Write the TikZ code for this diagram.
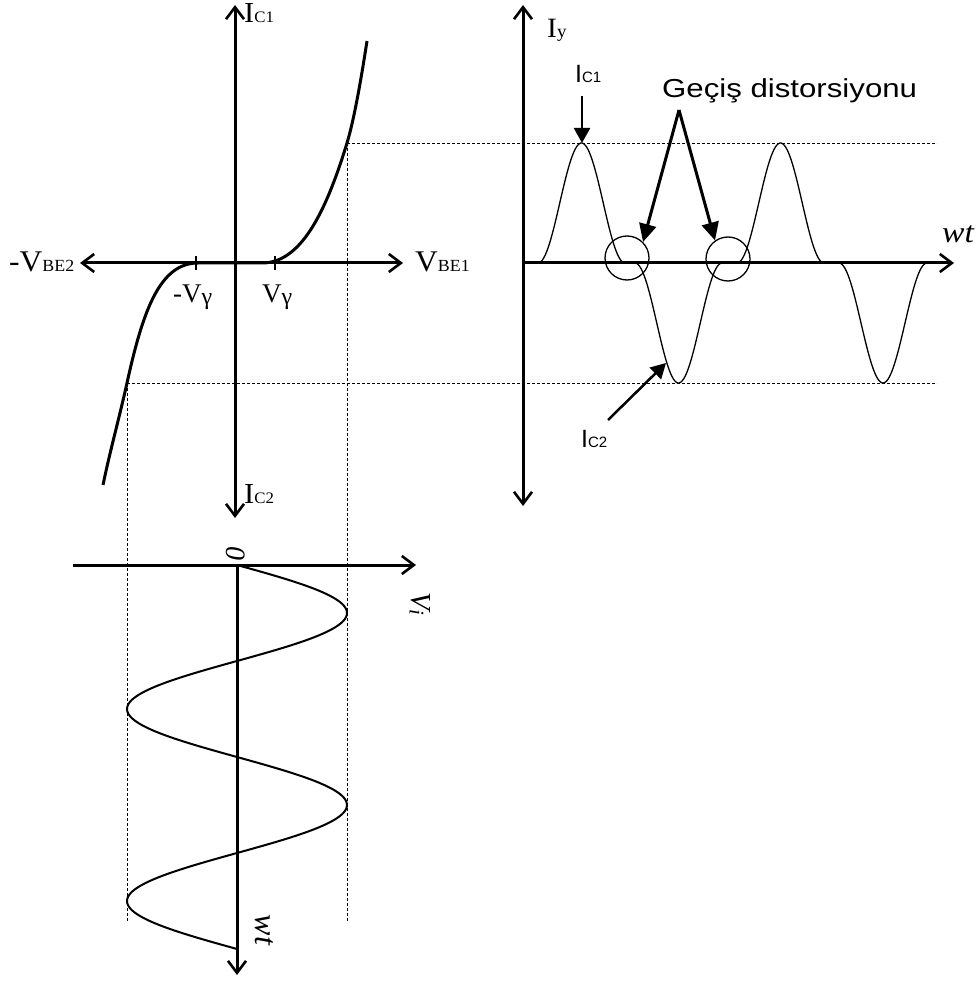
\documentclass[tikz,border=0pt]{standalone}
\usepackage{fontspec}
\usepackage{graphicx}
\setmainfont{Liberation Serif}
\newfontfamily\arialf{Liberation Sans}
\usetikzlibrary{arrows.meta}
\newcommand{\fs}[1]{\fontsize{#1}{#1}\selectfont}
\newcommand{\wide}[2]{\scalebox{#1}[1]{#2}}
\begin{document}
\begin{tikzpicture}[x=1pt,y=-1pt,
  axis/.style={line width=3pt,-{Straight Barb[length=12pt,width=18pt,line width=2.6pt]}},
  curve/.style={line width=3pt},
  wave/.style={line width=1.3pt},
  sinew/.style={line width=2pt},
  guide/.style={line width=0.8pt,dash pattern=on 3pt off 2pt},
  pointer/.style={line width=3pt,-{Triangle[length=18pt,width=17pt]}},
  lbl/.style={inner sep=0pt,anchor=base west},
  ring/.style={circle,draw,line width=1.3pt,minimum size=44pt,inner sep=0pt}]
\useasboundingbox (0,0) rectangle (975,981);
% ---------- coordinates
\coordinate (Lt) at (235,5);
\coordinate (Lb) at (235,518);
\coordinate (Ll) at (80,263);
\coordinate (Lr) at (403,263);
\coordinate (Lo) at (235,263);
\coordinate (Rt) at (523,5);
\coordinate (Rb) at (523,506);
\coordinate (Ro) at (523,263);
\coordinate (Rr) at (954,263);
\coordinate (Bl) at (73,565);
\coordinate (Br) at (416,565);
\coordinate (Bo) at (237,565);
\coordinate (Bb) at (237,975);
% ---------- guides
\draw[guide] (347,143) coordinate (g1) -- (937,143) coordinate (g2);
\draw[guide] (127,383) coordinate (g3) -- (937,383) coordinate (g4);
\draw[guide] (g1) -- (347,922);
\draw[guide] (g3) -- (127,922);
% ---------- left graph
\draw[axis] (Lo) -- (Lt);
\draw[axis] (Lo) -- (Lb);
\draw[axis] (Lo) -- (Ll);
\draw[axis] (Lo) -- (Lr);
\draw[line width=2.5pt] (196,256) -- (196,270);
\draw[line width=2.5pt] (275,256) -- (275,270);
\draw[curve] (103,485) .. controls (110,451) and (119,419) .. (127,383)
  .. controls (143,310) and (160,263) .. (198,263) -- (262,263)
  .. controls (300,263) and (325,215) .. (347,143)
  .. controls (354,120) and (361,80) .. (367,41);
\node[lbl] (ic1) at (244,23) {\wide{1.05}{\fs{29}I\fs{16}C1}};
\node[lbl] (ic2) at (244,503) {\wide{1.05}{\fs{29}I\fs{16}C2}};
\node[lbl] (vbe2) at (9,272) {\wide{1.05}{\fs{30}-V\fs{17}BE2}};
\node[lbl] (vbe1) at (415,272) {\wide{1.05}{\fs{30}V\fs{17}BE1}};
\node[lbl] (mvg) at (173,302) {\fs{27}-V\raisebox{-2pt}{\fs{24}γ}};
\node[lbl] (vg) at (262,302) {\fs{27}V\raisebox{-2pt}{\fs{24}γ}};
% ---------- right graph
\draw[axis] (Ro) -- (Rt);
\draw[axis] (Ro) -- (Rb);
\draw[axis] (Ro) -- (Rr);
\draw[wave] plot[domain=0:1,samples=60] ({538+87*\x},{263-60*(1-cos(360*\x))});
\draw[wave] plot[domain=0:1,samples=60] ({635+87*\x},{263+60*(1-cos(360*\x))});
\draw[wave] plot[domain=0:1,samples=60] ({737+87*\x},{263-60*(1-cos(360*\x))});
\draw[wave] plot[domain=0:1,samples=60] ({839+88*\x},{263+60*(1-cos(360*\x))});
\node[ring] (c1) at (627,258) {};
\node[ring] (c2) at (728,259) {};
\node[lbl] (iy) at (547,38) {\wide{1.05}{\fs{28}I\fs{18}y}};
\node[lbl] (wtr) at (942,243) {\wide{1.12}{\fs{30}\itshape wt}};
\node[lbl] (gd) at (662,98) {\wide{1.2}{\arialf\fs{26}Geçiş distorsiyonu}};
\node[lbl] (ic1r) at (575,83) {\arialf\fs{25}I\fs{15}C1};
\node[lbl] (ic2r) at (581,447) {\arialf\fs{25}I\fs{15}C2};
\coordinate (apex) at (679,110);
\draw[pointer] (apex) -- (c1.45);
\draw[pointer] (apex) -- (c2.125);
\coordinate (a1s) at (582,96);
\coordinate (pk1) at (582,143);
\draw[line width=2.5pt,-{Triangle[length=15pt,width=16pt]}] (a1s) -- (pk1);
\coordinate (a2s) at (608,420);
\coordinate (tr1) at (666,363);
\draw[line width=2.5pt,-{Triangle[length=15pt,width=16pt]}] (a2s) -- (tr1);
% ---------- bottom graph
\draw[axis] (Bl) -- (Br);
\draw[axis] (Bo) -- (Bb);
\draw[sinew] plot[domain=0:384,samples=200] ({237+110*sin(1.875*\x)},{565+\x});
\node[rotate=-90,inner sep=0pt] (zero) at (236,553) {\fs{28}\itshape 0};
\node[rotate=-90,inner sep=0pt] (vi) at (420,604) {\fs{29}\itshape V\raisebox{-2pt}{\fs{21}i}};
\node[rotate=-90,inner sep=0pt] (wtb) at (264,930) {\fs{32}\itshape wt};
\end{tikzpicture}
\end{document}
